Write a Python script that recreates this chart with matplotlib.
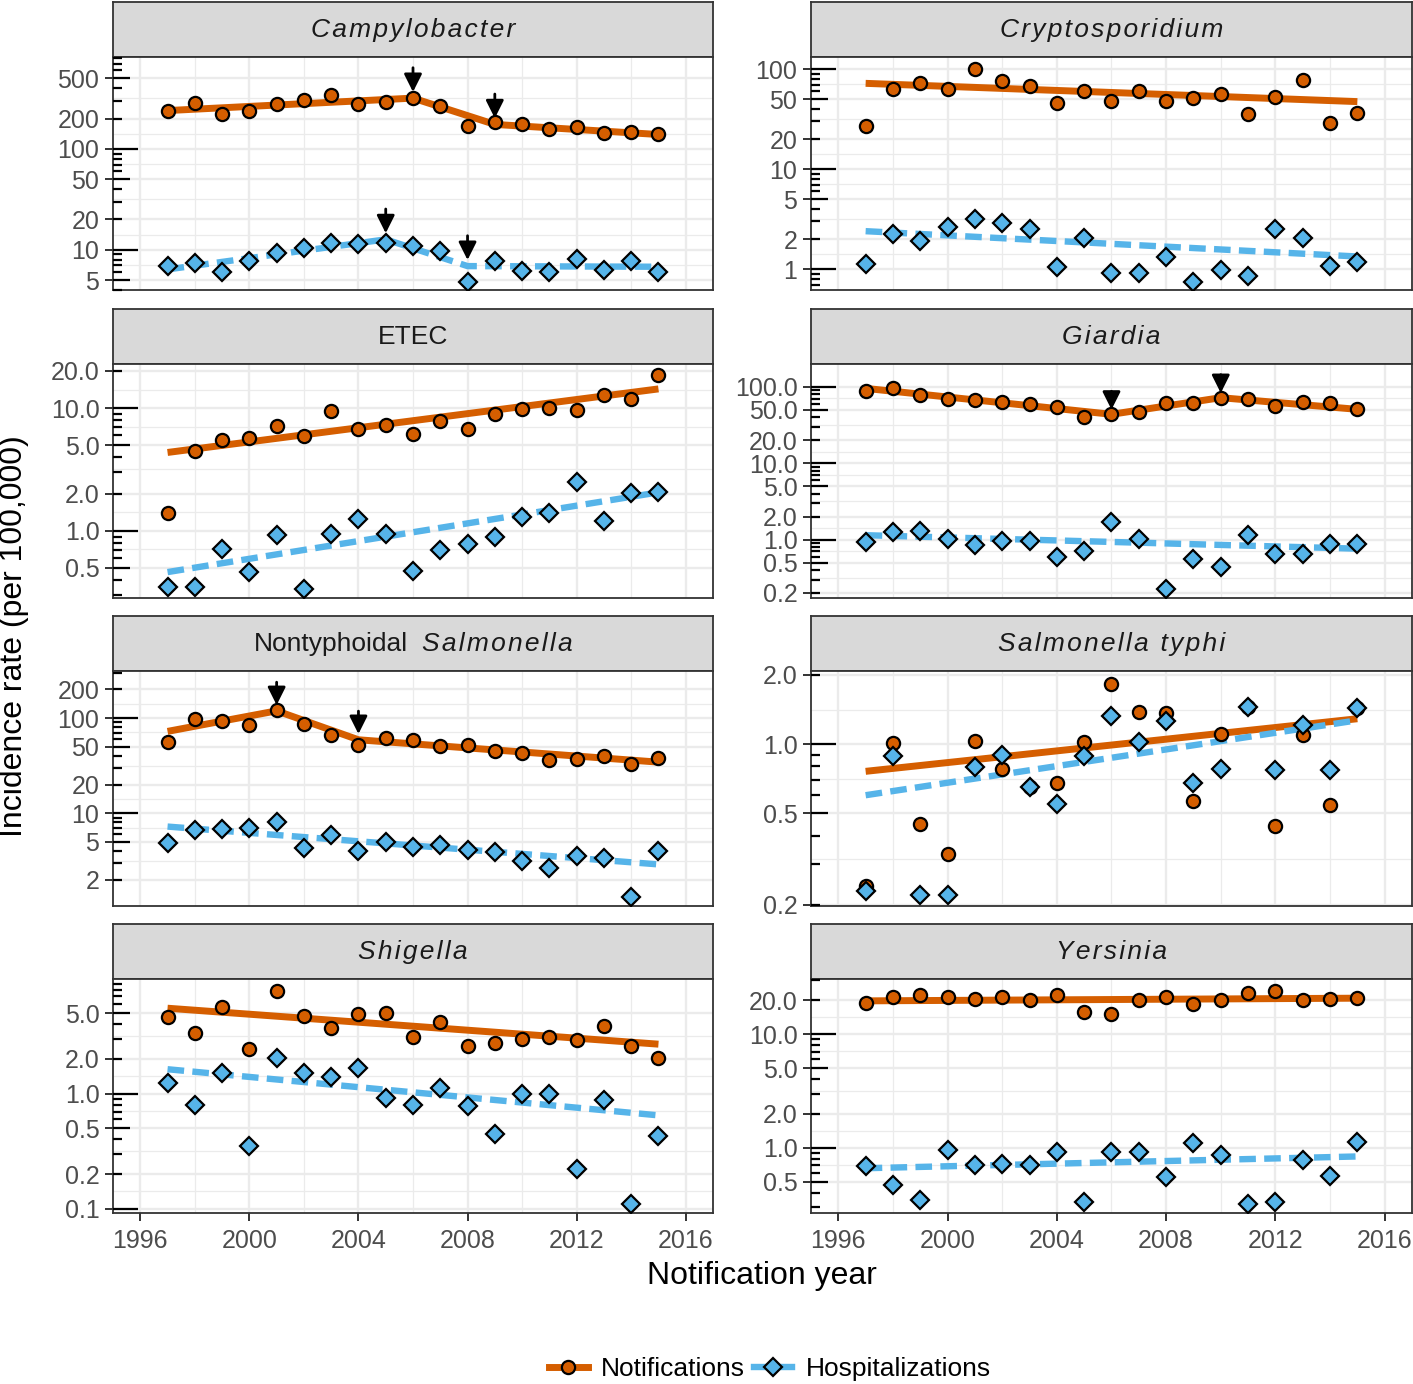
import matplotlib
matplotlib.use("Agg")
import matplotlib.pyplot as plt
from matplotlib.lines import Line2D
from matplotlib.ticker import FixedLocator, NullFormatter, FixedFormatter
import numpy as np

plt.rcParams["font.family"] = ["Liberation Sans", "DejaVu Sans"]

W, H = 1413, 1384
ORANGE = "#D55E00"
BLUE = "#56B4E9"

years = list(range(1997, 2016))

# --- Campylobacter
campy_notif = [237, 284, 223, 235, 276, 309, 341, 278, 291, 319, 267, 169, 183, 175, 158, 164, 143, 148, 141]
campy_hosp = [6.9, 7.4, 6.1, 7.7, 9.3, 10.5, 11.7, 11.4, 11.8, 10.9, 9.8, 4.8, 7.7, 6.2, 6.0, 8.2, 6.3, 7.8, 6.1]
campy_notif_fit_yr = [1997, 2006, 2009, 2015]
campy_notif_fit = [240, 319, 175, 139]
campy_hosp_fit_yr = [1997, 2005, 2008, 2015]
campy_hosp_fit = [6.4, 12.7, 6.9, 6.8]

# --- Cryptosporidium
crypto_notif = [26.7, 62.8, 73.1, 63.2, 100, 76.6, 67.8, 46.3, 60.9, 48.0, 60.9, 48.0, 51.1, 56.0, 35.9, 53.1, 77.8, 28.8, 36.8]
crypto_hosp = [1.14, 2.26, 1.91, 2.66, 3.15, 2.91, 2.54, 1.05, 2.07, 0.91, 0.92, 1.34, 0.75, 0.98, 0.86, 2.50, 2.07, 1.08, 1.19]
crypto_notif_fit_yr = [1997, 2015]
crypto_notif_fit = [72, 47.3]
crypto_hosp_fit_yr = [1997, 2015]
crypto_hosp_fit = [2.40, 1.34]

# --- ETEC
etec_notif = [1.39, 4.48, 5.51, 5.69, 7.08, 5.87, 9.39, 6.74, 7.31, 6.17, 7.87, 6.74, 9.0, 9.81, 10.0, 9.57, 12.7, 11.9, 18.7]
etec_hosp = [0.348, 0.348, 0.718, 0.463, 0.923, 0.338, 0.951, 1.24, 0.951, 0.471, 0.695, 0.787, 0.893, 1.30, 1.41, 2.52, 1.21, 2.02, 2.08]
etec_notif_fit_yr = [1997, 2015]
etec_notif_fit = [4.35, 14.3]
etec_hosp_fit_yr = [1997, 2015]
etec_hosp_fit = [0.463, 2.06]

# --- Giardia
giardia_notif = [88.6, 97, 77.8, 68.9, 66.8, 63.6, 59.3, 53.6, 39.6, 43.4, 46.1, 60.6, 61.7, 71.8, 68.3, 56.4, 63.0, 60.6, 50.5]
giardia_hosp = [0.93, 1.26, 1.29, 1.03, 0.84, 0.95, 0.95, 0.59, 0.71, 1.70, 1.03, 0.228, 0.552, 0.438, 1.14, 0.656, 0.656, 0.887, 0.887]
giardia_notif_fit_yr = [1997, 2006, 2010, 2015]
giardia_notif_fit = [95, 43.5, 71.8, 50.5]
giardia_hosp_fit_yr = [1997, 2015]
giardia_hosp_fit = [1.14, 0.76]

# --- Nontyphoidal Salmonella
nts_notif = [55.9, 97.6, 93.7, 83.7, 122, 86.4, 65.8, 52.4, 61.5, 59.1, 50.3, 52.4, 44.6, 42.8, 36.4, 37.3, 40.1, 32.8, 37.9]
nts_hosp = [4.9, 6.68, 6.79, 6.96, 8.17, 4.28, 5.91, 4.02, 5.04, 4.46, 4.64, 4.11, 3.95, 3.15, 2.64, 3.58, 3.41, 1.33, 4.05]
nts_notif_fit_yr = [1997, 2001, 2004, 2015]
nts_notif_fit = [72.4, 119, 59.1, 34.4]
nts_hosp_fit_yr = [1997, 2015]
nts_hosp_fit = [7.24, 2.90]

# --- Salmonella typhi
typhi_notif = [0.243, 1.01, 0.45, 0.333, 1.03, 0.780, 0.651, 0.677, 1.02, 1.82, 1.38, 1.37, 0.565, 1.11, 1.45, 0.441, 1.10, 0.543, 1.43]
typhi_hosp = [0.230, 0.891, 0.220, 0.220, 0.794, 0.900, 0.651, 0.552, 0.891, 1.33, 1.02, 1.26, 0.677, 0.780, 1.45, 0.773, 1.21, 0.773, 1.43]
typhi_notif_fit_yr = [1997, 2015]
typhi_notif_fit = [0.762, 1.29]
typhi_hosp_fit_yr = [1997, 2015]
typhi_hosp_fit = [0.600, 1.27]

# --- Shigella
shig_notif = [4.64, 3.39, 5.60, 2.43, 7.81, 4.73, 3.75, 4.90, 5.06, 3.13, 4.20, 2.60, 2.78, 2.97, 3.13, 2.93, 3.88, 2.60, 2.06]
shig_hosp = [1.25, 0.792, 1.50, 0.351, 2.06, 1.52, 1.40, 1.68, 0.923, 0.797, 1.13, 0.781, 0.443, 1.0, 1.0, 0.220, 0.881, 0.110, 0.428]
shig_notif_fit_yr = [1997, 2015]
shig_notif_fit = [5.52, 2.69]
shig_hosp_fit_yr = [1997, 2015]
shig_hosp_fit = [1.63, 0.648]

# --- Yersinia
yers_notif = [18.8, 21.1, 22.0, 21.1, 20.4, 21.1, 20.1, 22.3, 15.7, 15.2, 19.9, 21.1, 18.4, 19.9, 23.1, 24.3, 20.1, 20.4, 20.8]
yers_hosp = [0.689, 0.471, 0.349, 0.946, 0.698, 0.722, 0.71, 0.916, 0.330, 0.916, 0.916, 0.557, 1.11, 0.867, 0.319, 0.330, 0.773, 0.569, 1.12]
yers_notif_fit_yr = [1997, 2015]
yers_notif_fit = [19.7, 20.8]
yers_hosp_fit_yr = [1997, 2015]
yers_hosp_fit = [0.66, 0.838]

# strip titles: (text, italic)
titles = [
    [("Campylobacter", True)],
    [("Cryptosporidium", True)],
    [("ETEC", False)],
    [("Giardia", True)],
    [("Nontyphoidal", False), ("Salmonella", True)],
    [("Salmonella typhi", True)],
    [("Shigella", True)],
    [("Yersinia", True)],
]
ybreaks = [
    [5, 10, 20, 50, 100, 200, 500],
    [1, 2, 5, 10, 20, 50, 100],
    [0.5, 1, 2, 5, 10, 20],
    [0.2, 0.5, 1, 2, 5, 10, 20, 50, 100],
    [2, 5, 10, 20, 50, 100, 200],
    [0.2, 0.5, 1, 2],
    [0.1, 0.2, 0.5, 1, 2, 5],
    [0.5, 1, 2, 5, 10, 20],
]
ydecimals = [0, 0, 1, 1, 0, 1, 1, 1]
ylims = [(4.0, 815), (0.62, 132), (0.285, 22.8), (0.172, 198),
         (1.06, 312), (0.198, 2.08), (0.092, 9.9), (0.266, 30.7)]

panels = [
    (campy_notif, campy_hosp, campy_notif_fit_yr, campy_notif_fit, campy_hosp_fit_yr, campy_hosp_fit),
    (crypto_notif, crypto_hosp, crypto_notif_fit_yr, crypto_notif_fit, crypto_hosp_fit_yr, crypto_hosp_fit),
    (etec_notif, etec_hosp, etec_notif_fit_yr, etec_notif_fit, etec_hosp_fit_yr, etec_hosp_fit),
    (giardia_notif, giardia_hosp, giardia_notif_fit_yr, giardia_notif_fit, giardia_hosp_fit_yr, giardia_hosp_fit),
    (nts_notif, nts_hosp, nts_notif_fit_yr, nts_notif_fit, nts_hosp_fit_yr, nts_hosp_fit),
    (typhi_notif, typhi_hosp, typhi_notif_fit_yr, typhi_notif_fit, typhi_hosp_fit_yr, typhi_hosp_fit),
    (shig_notif, shig_hosp, shig_notif_fit_yr, shig_notif_fit, shig_hosp_fit_yr, shig_hosp_fit),
    (yers_notif, yers_hosp, yers_notif_fit_yr, yers_notif_fit, yers_hosp_fit_yr, yers_hosp_fit),
]

LW_N, LW_H = 5.0, 4.6
DASH = [2.6, 1.3]
MS_O, MS_D = 9.5, 8.8

fig = plt.figure(figsize=(W / 100, H / 100), dpi=100)
renderer = fig.canvas.get_renderer()


def px_axes(x0, y0, x1, y1):
    return fig.add_axes([x0 / W, 1 - y1 / H, (x1 - x0) / W, (y1 - y0) / H])


def hair(s):
    return "\u200a".join(s)


def strip_label(sax, parts):
    texts = []
    for s, it in parts:
        t = sax.text(0, 0.36, hair(s) if it else s, transform=sax.transAxes,
                     ha="left", va="baseline", fontsize=19, color="#1A1A1A",
                     style="italic" if it else "normal")
        texts.append(t)
    widths = [t.get_window_extent(renderer).width for t in texts]
    gap = 14
    total = sum(widths) + gap * (len(texts) - 1)
    sw = sax.get_window_extent(renderer).width
    x = (sw - total) / 2
    for t, w in zip(texts, widths):
        t.set_x(x / sw)
        x += w + gap


cols = [(113, 713), (811, 1412)]
strip_tops = [2, 309, 616, 924]
panel_bottoms = [290, 598, 906, 1213]

for i, (notif, hosp, nfy, nf, hfy, hf) in enumerate(panels):
    r, c = divmod(i, 2)
    x0, x1 = cols[c]
    st = strip_tops[r]
    pt = st + 55
    pb = panel_bottoms[r]

    sax = px_axes(x0, st, x1, pt)
    sax.set_facecolor("#D9D9D9")
    sax.set_xticks([])
    sax.set_yticks([])
    for sp in sax.spines.values():
        sp.set_color("#333333")
        sp.set_linewidth(1.3)
    strip_label(sax, titles[i])

    ax = px_axes(x0, pt, x1, pb)
    ax.set_yscale("log")
    lo, hi = ylims[i]
    ax.set_ylim(lo, hi)
    ax.set_xlim(1995, 2017)

    br = ybreaks[i]
    ax.yaxis.set_major_locator(FixedLocator(br))
    ax.yaxis.set_major_formatter(FixedFormatter([f"{b:.{ydecimals[i]}f}" for b in br]))
    minors = [np.sqrt(a * b) for a, b in zip(br[:-1], br[1:])]
    ax.yaxis.set_minor_locator(FixedLocator(minors))
    ax.yaxis.set_minor_formatter(NullFormatter())

    ax.xaxis.set_major_locator(FixedLocator([1996, 2000, 2004, 2008, 2012, 2016]))
    ax.xaxis.set_minor_locator(FixedLocator([1998, 2002, 2006, 2010, 2014]))

    ax.grid(which="major", color="#EBEBEB", lw=1.7, zorder=0)
    ax.grid(which="minor", color="#EBEBEB", lw=0.9, zorder=0)
    ax.set_axisbelow(True)
    for sp in ax.spines.values():
        sp.set_color("#333333")
        sp.set_linewidth(1.3)

    ax.tick_params(axis="both", which="major", direction="out", length=5.8, width=1.4,
                   color="#333333", labelsize=18, labelcolor="#4D4D4D", pad=4)
    ax.tick_params(axis="x", which="major", pad=5.5)
    ax.tick_params(axis="both", which="minor", length=0)
    if r < 3:
        ax.tick_params(axis="x", which="major", length=0, labelbottom=False)

    # log ticks inside the panel
    ytf = ax.get_yaxis_transform()
    pw = x1 - x0
    for d in range(int(np.floor(np.log10(lo))), int(np.ceil(np.log10(hi))) + 1):
        for k in range(1, 10):
            v = k * 10.0 ** d
            if v < lo or v > hi:
                continue
            L = 25 if k == 1 else (17 if k == 5 else 9)
            ax.plot([0, L / pw], [v, v], transform=ytf, color="black", lw=1.6,
                    solid_capstyle="butt", clip_on=False, zorder=6)

    ax.plot(nfy, nf, color=ORANGE, lw=LW_N, solid_capstyle="butt", zorder=2)
    hl, = ax.plot(hfy, hf, color=BLUE, lw=LW_H, ls="--", zorder=2)
    hl.set_dashes(DASH)
    ax.plot(years, notif, ls="none", marker="o", ms=MS_O, mfc=ORANGE, mec="black", mew=1.6, zorder=3)
    ax.plot(years, hosp, ls="none", marker="D", ms=MS_D, mfc=BLUE, mec="black", mew=1.6, zorder=4)

    # arrows at joinpoints
    for fy, fv in ((nfy, nf), (hfy, hf)):
        for yr, v in zip(fy[1:-1], fv[1:-1]):
            ax.annotate("", xy=(yr, v * 1.15), xytext=(yr, v * 2.0),
                        arrowprops=dict(arrowstyle="-|>,head_length=0.6,head_width=0.3",
                                        color="black", lw=2.0, shrinkA=0, shrinkB=0,
                                        mutation_scale=18), zorder=5)

fig.text(762 / W, 1 - 1276 / H, "Notification year", ha="center", va="center",
         fontsize=23, color="black")
fig.text(14 / W, 1 - 636 / H, "Incidence rate (per 100,000)", ha="center", va="center",
         rotation=90, fontsize=23, color="black")

handles = [
    Line2D([], [], color=ORANGE, lw=LW_N, marker="o", ms=MS_O, mfc=ORANGE, mec="black", mew=1.6),
    Line2D([], [], color=BLUE, lw=LW_H, ls="-", marker="D", ms=MS_D, mfc=BLUE,
           mec="black", mew=1.6),
]
fig.legend(handles, ["Notifications", "Hospitalizations"], loc="center",
           bbox_to_anchor=(770 / W, 1 - 1369 / H), ncol=2, frameon=False, fontsize=19,
           handlelength=1.45, columnspacing=0.35, handletextpad=0.5)

fig.savefig("out.png", dpi=100)
